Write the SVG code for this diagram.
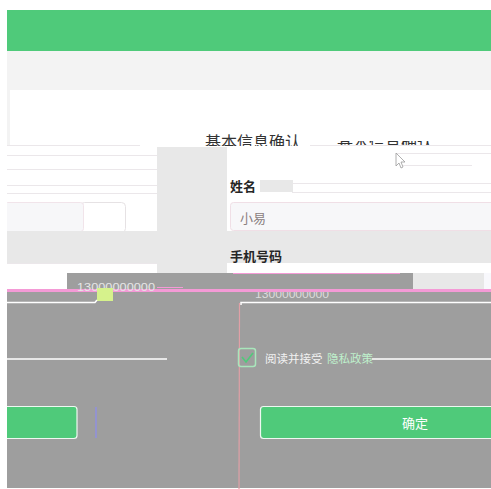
<svg xmlns="http://www.w3.org/2000/svg" width="491" height="489" viewBox="0 0 491 489">
<style>
.t{font-family:"Noto Sans CJK SC","Liberation Sans",sans-serif}
.lbl{font-size:13px;font-weight:bold;fill:#262626}
.ln{stroke:#ebe7ea;stroke-width:1;fill:none}
.wl{stroke:#ffffff;stroke-width:1.5;fill:none}
.btn{fill:#4fca7a;stroke:#eef8f1;stroke-width:1.2}
</style>
<defs>
<clipPath id="cTitle"><rect x="0" y="120" width="491" height="26"/></clipPath>
<clipPath id="cDup"><rect x="330" y="141" width="120" height="5"/></clipPath>
<clipPath id="cPh"><rect x="240" y="292" width="120" height="8"/></clipPath>
</defs>
<rect width="491" height="489" fill="#ffffff"/>
<g id="header">
<rect x="7" y="10" width="484" height="41" fill="#4fca7a"/>
<rect x="7" y="51" width="484" height="95" fill="#f3f3f3"/>
<rect x="10" y="90" width="481" height="56" fill="#ffffff"/>
<text class="t" x="205" y="148" font-size="16" fill="#333333" clip-path="url(#cTitle)">基本信息确认</text>
<text class="t" x="337" y="149" font-size="16" fill="#333333" clip-path="url(#cDup)">基本信息确认</text>
</g>
<g id="left-strips">
<rect x="7" y="145" width="150" height="128" fill="#ffffff"/>
<line class="ln" x1="7" y1="145.5" x2="140" y2="145.5"/>
<line class="ln" x1="310" y1="145.5" x2="491" y2="145.5"/>
<line class="ln" x1="7" y1="155.5" x2="157" y2="155.5"/>
<line class="ln" x1="7" y1="169.5" x2="157" y2="169.5"/>
<line class="ln" x1="7" y1="185.5" x2="157" y2="185.5"/>
<line class="ln" x1="7" y1="193.5" x2="157" y2="193.5"/>
<rect x="80.5" y="202.5" width="45" height="30" rx="4" fill="#ffffff" stroke="#e6e2e4"/>
<rect x="4.5" y="202.5" width="79" height="29" rx="3" fill="#f7f7f9" stroke="#f1e4ea"/>
</g>
<g id="grey-block">
<rect x="157" y="147" width="70" height="126" fill="#e8e8e8"/>
<rect x="7" y="231" width="484" height="32" fill="#e8e8e8"/>
<rect x="7" y="263" width="150" height="10" fill="#ffffff"/>
<line class="ln" x1="7" y1="263.5" x2="157" y2="263.5"/>
</g>
<g id="form">
<rect x="227" y="147" width="264" height="84" fill="#ffffff"/>
<line class="ln" x1="397" y1="153.5" x2="491" y2="153.5"/>
<line class="ln" x1="403" y1="165.5" x2="472" y2="165.5"/>
<line class="ln" x1="292" y1="183.5" x2="491" y2="183.5"/>
<line class="ln" x1="292" y1="192.5" x2="491" y2="192.5"/>
<rect x="260" y="180" width="33" height="12" fill="#e8e8e8"/>
<text class="t lbl" x="230" y="191">姓名</text>
<rect x="230.5" y="202.5" width="265" height="28" rx="3" fill="#f7f7f9" stroke="#f0dfe6"/>
<text class="t" x="240" y="223" font-size="13" fill="#8a8080">小易</text>
<text class="t lbl" x="230" y="261">手机号码</text>
<rect x="232" y="263" width="259" height="10" fill="#ffffff"/>
<path d="M396 153 v13 l3 -3 l2 5 l2 -1 l-2 -5 h4 z" fill="#ffffff" stroke="#9a9a9a" stroke-width="0.8"/>
</g>
<g id="overlay">
<rect x="67" y="273" width="424" height="18" fill="#9e9e9e"/>
<rect x="7" y="273" width="60" height="18" fill="#ffffff"/>
<rect x="7" y="291" width="484" height="197" fill="#9e9e9e"/>
<rect x="413" y="273" width="71" height="17" fill="#e8e8e8"/>
<rect x="484" y="273" width="7" height="17" fill="#f8f8fc"/>
<line x1="233" y1="273.5" x2="400" y2="273.5" stroke="#f49ad6" stroke-width="1.2"/>
<line x1="157" y1="287.5" x2="183" y2="287.5" stroke="#f49ad6" stroke-width="1"/>
<rect x="7" y="289" width="484" height="3" fill="#f49ad6"/>
<text x="77" y="291" font-family="Liberation Sans,sans-serif" font-size="11" fill="#e6e6e6" textLength="78" lengthAdjust="spacingAndGlyphs">13000000000</text>
<text x="255" y="298" font-family="Liberation Sans,sans-serif" font-size="11" fill="#dcdcdc" textLength="74" lengthAdjust="spacingAndGlyphs" clip-path="url(#cPh)">13000000000</text>
<rect x="97" y="288" width="16" height="13" fill="#d6f28c"/>
<path class="wl" d="M7 302.5 H95 L97 300"/>
<path class="wl" d="M241 305 V302.5 H491"/>
<line x1="239.5" y1="303" x2="239" y2="489" stroke="#e0a0a6" stroke-width="1.2"/>
<line class="wl" x1="7" y1="359" x2="167" y2="359"/>
<line class="wl" x1="372" y1="359" x2="491" y2="359"/>
</g>
<g id="agree">
<rect x="238.5" y="348.5" width="17" height="18" rx="2.5" fill="none" stroke="#a8e6bb" stroke-width="1.5"/>
<path d="M242 357 l4 5 l7 -9" fill="none" stroke="#4fca7a" stroke-width="1.6"/>
<text class="t" x="265" y="363" font-size="11.5" fill="#f2f2f2">阅读并接受</text>
<text class="t" x="327" y="363" font-size="11.5" fill="#bff0cc">隐私政策</text>
</g>
<g id="buttons">
<rect class="btn" x="4" y="406.5" width="73" height="32" rx="3"/>
<line x1="96" y1="407" x2="96" y2="438" stroke="#8c8cf0" stroke-width="1.2"/>
<rect class="btn" x="260.5" y="406.5" width="236" height="32" rx="3"/>
<text class="t" x="415" y="428" font-size="13" fill="#ffffff" text-anchor="middle">确定</text>
</g>
<rect id="margin" x="0" y="0" width="7" height="489" fill="#ffffff"/>
</svg>
